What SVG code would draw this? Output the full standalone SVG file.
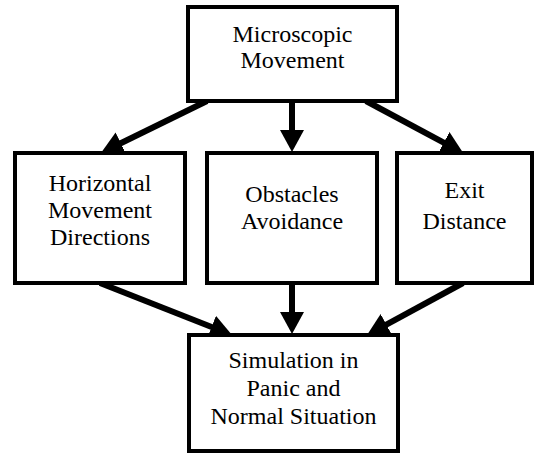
<svg xmlns="http://www.w3.org/2000/svg" width="536" height="453" viewBox="0 0 536 453">
<style>
.box{fill:#fff;stroke:#000;stroke-width:4}
.lbl{font-family:"Liberation Serif","Times New Roman",serif;font-size:24px;fill:#000;text-anchor:middle}
.arr{stroke:#000;stroke-width:6;fill:none;marker-end:url(#ah)}
</style>
<defs>
<marker id="ah" viewBox="0 0 22 24" refX="11" refY="12" markerWidth="22" markerHeight="24" markerUnits="userSpaceOnUse" orient="auto">
<path d="M0,0 L22,12 L0,24 z" fill="#000"/>
</marker>
</defs>
<rect width="536" height="453" fill="#fff"/>
<g id="connectors">
<line class="arr" x1="207" y1="101" x2="111" y2="148"/>
<line class="arr" x1="292" y1="101" x2="292" y2="141"/>
<line class="arr" x1="366" y1="101" x2="453.5" y2="147.8"/>
<line class="arr" x1="100" y1="283" x2="221.8" y2="331"/>
<line class="arr" x1="292" y1="283" x2="292" y2="323"/>
<line class="arr" x1="463" y1="283" x2="376.7" y2="329.8"/>
</g>
<g id="n-micro">
<rect class="box" x="188" y="7" width="209" height="94"/>
<text class="lbl" x="292.5" y="42">Microscopic</text>
<text class="lbl" x="292.5" y="68">Movement</text>
</g>
<g id="n-horizontal">
<rect class="box" x="15" y="153" width="170" height="130"/>
<text class="lbl" x="100" y="191">Horizontal</text>
<text class="lbl" x="100" y="218">Movement</text>
<text class="lbl" x="100" y="245">Directions</text>
</g>
<g id="n-obstacles">
<rect class="box" x="207" y="153" width="170" height="130"/>
<text class="lbl" x="292" y="202">Obstacles</text>
<text class="lbl" x="292" y="229">Avoidance</text>
</g>
<g id="n-exit">
<rect class="box" x="397" y="153" width="135" height="130"/>
<text class="lbl" x="464.5" y="198">Exit</text>
<text class="lbl" x="464.5" y="229">Distance</text>
</g>
<g id="n-simulation">
<rect class="box" x="189" y="335" width="209" height="116"/>
<text class="lbl" x="293.5" y="368">Simulation in</text>
<text class="lbl" x="293.5" y="396">Panic and</text>
<text class="lbl" x="293.5" y="424">Normal Situation</text>
</g>
</svg>
